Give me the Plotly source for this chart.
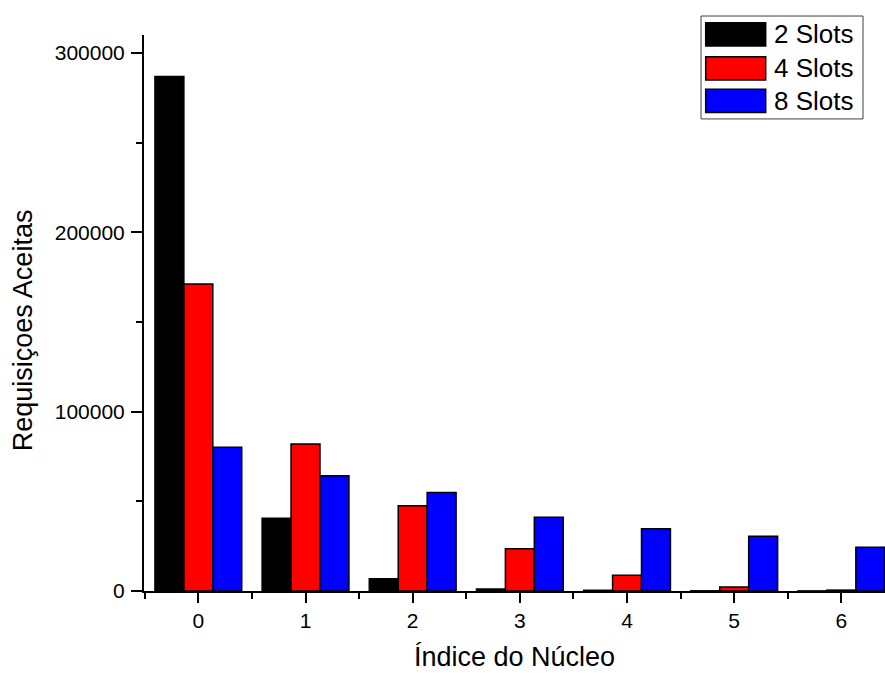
import plotly.graph_objects as go

# Accepted requests per core index, for each slot configuration
core_index = [0, 1, 2, 3, 4, 5, 6]
series_names = ["2 Slots", "4 Slots", "8 Slots"]
slots_2 = [286800, 40600, 6800, 1100, 400, 100, 50]
slots_4 = [171100, 82000, 47600, 23500, 8800, 2200, 500]
slots_8 = [80100, 64300, 54900, 41100, 34700, 30500, 24400]
series_values = [slots_2, slots_4, slots_8]
series_colors = ["#000000", "#ff0000", "#0000ff"]

x_title = "Índice do Núcleo"
y_title = "Requisiçoes Aceitas"
y_tickvals = [0, 100000, 200000, 300000]

FONT = "Liberation Sans, Arial, sans-serif"
W, H = 885, 673
ML, MR, MT, MB = 144, 0, 35, 81.5
PLOT_W = W - ML - MR
PLOT_H = H - MT - MB


def px_to_paper(px, py):
    """Convert page pixel coordinates to paper coordinates."""
    return (px - ML) / PLOT_W, (H - MB - py) / PLOT_H


fig = go.Figure()
for name, vals, col in zip(series_names, series_values, series_colors):
    fig.add_trace(go.Bar(
        x=core_index, y=vals, name=name,
        marker=dict(color=col, line=dict(color="#000000", width=1.5)),
        showlegend=False,
    ))

fig.update_layout(
    width=W, height=H,
    margin=dict(l=ML, r=MR, t=MT, b=MB, pad=0),
    paper_bgcolor="white", plot_bgcolor="white",
    barmode="group", bargap=0.19, bargroupgap=0,
    font=dict(family=FONT, color="black"),
    showlegend=False,
)

fig.update_xaxes(
    range=[-0.507, 6.407],
    tickmode="array", tickvals=core_index, ticktext=[str(c) for c in core_index],
    ticks="outside", ticklen=10, tickwidth=2, tickcolor="black",
    tickfont=dict(size=21, family=FONT, color="black"),
    ticklabelstandoff=0,
    minor=dict(tick0=0.5, dtick=1, ticks="outside", ticklen=6, tickwidth=2,
               tickcolor="black", showgrid=False),
    showline=True, linecolor="black", linewidth=2,
    showgrid=False, zeroline=False, automargin=False,
)
fig.update_yaxes(
    range=[0, 310000],
    tickmode="array", tickvals=y_tickvals, ticktext=[str(v) for v in y_tickvals],
    ticks="outside", ticklen=11, tickwidth=2, tickcolor="black",
    tickfont=dict(size=21, family=FONT, color="black"),
    ticklabelstandoff=2,
    minor=dict(tick0=0, dtick=50000, ticks="outside", ticklen=6, tickwidth=2,
               tickcolor="black", showgrid=False),
    showline=True, linecolor="black", linewidth=2,
    showgrid=False, zeroline=False, automargin=False,
)

# Axis titles
fig.add_annotation(text=x_title, xref="paper", yref="paper", x=0.5, y=0,
                   yshift=-66, xanchor="center", yanchor="middle",
                   showarrow=False, font=dict(size=27, family=FONT, color="black"))
ty = px_to_paper(0, 330.5)[1]
fig.add_annotation(text=y_title, xref="paper", yref="paper", x=0, y=ty,
                   xshift=-121, xanchor="center", yanchor="middle", textangle=-90,
                   showarrow=False, font=dict(size=27, family=FONT, color="black"))

# Legend box with wide colour swatches
bx0, by0 = px_to_paper(701, 119)
bx1, by1 = px_to_paper(863, 16)
fig.add_shape(type="rect", xref="paper", yref="paper", x0=bx0, y0=by0, x1=bx1, y1=by1,
              line=dict(color="#404040", width=1), fillcolor="white", layer="above")
row_tops = [22.7, 56.7, 89.3]
for name, col, top in zip(series_names, series_colors, row_tops):
    sx0, sy0 = px_to_paper(705.7, top + 23.3)
    sx1, sy1 = px_to_paper(765.7, top)
    fig.add_shape(type="rect", xref="paper", yref="paper", x0=sx0, y0=sy0, x1=sx1, y1=sy1,
                  line=dict(color="#000000", width=1.5), fillcolor=col, layer="above")
    tx, tym = px_to_paper(772, top + 11.7)
    fig.add_annotation(text=name, xref="paper", yref="paper", x=tx, y=tym,
                       xanchor="left", yanchor="middle", showarrow=False,
                       font=dict(size=26, family=FONT, color="black"))

fig.write_html("out.html")
